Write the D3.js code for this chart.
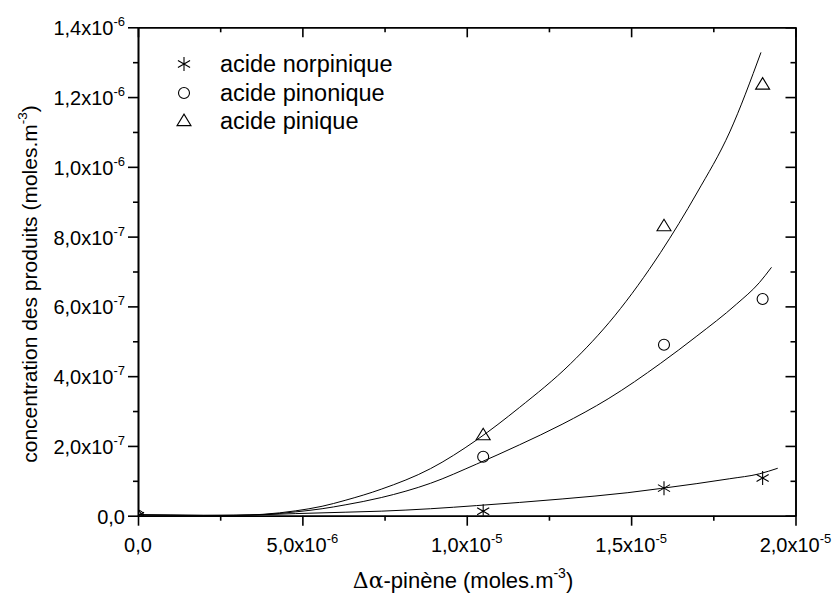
<!DOCTYPE html>
<html>
<head>
<meta charset="utf-8">
<script src="https://cdn.jsdelivr.net/npm/d3@7"></script>
<style>
  html, body { margin: 0; padding: 0; background: #fff; }
  svg { display: block; }
  text { font-family: "Liberation Sans", Arial, sans-serif; fill: #000; }
</style>
</head>
<body>
<svg id="chart" width="833" height="599"></svg>
<script>
// ---------- data ----------
const pointX = [0, 1.05e-5, 1.6e-5, 1.9e-5];
const norpinique = [0, 0.013e-6, 0.079e-6, 0.108e-6];
const pinonique  = [0, 0.169e-6, 0.490e-6, 0.621e-6];
const pinique    = [0, 0.231e-6, 0.830e-6, 1.236e-6];

// fitted curves (x in moles.m-3, y in moles.m-3)
const fitPiniqueX = [0, 1e-6, 2e-6, 3e-6, 3.8e-6, 4.8e-6, 5.6e-6, 6.3e-6, 7.4e-6, 8.9e-6, 10.3e-6, 11.6e-6, 13.15e-6, 14.5e-6, 15.9e-6, 17.0e-6, 18.0e-6, 18.95e-6];
const fitPiniqueY = [0.003e-6, 0.002e-6, 0.001e-6, 0.001e-6, 0.004e-6, 0.014e-6, 0.027e-6, 0.044e-6, 0.076e-6, 0.135e-6, 0.217e-6, 0.310e-6, 0.435e-6, 0.573e-6, 0.755e-6, 0.925e-6, 1.100e-6, 1.328e-6];

const fitPinoniqueX = [0, 1e-6, 2e-6, 3e-6, 3.8e-6, 4.8e-6, 5.6e-6, 6.3e-6, 7.4e-6, 8.9e-6, 10.3e-6, 11.6e-6, 12.9e-6, 14.3e-6, 15.9e-6, 17.0e-6, 18.2e-6, 18.9e-6, 19.27e-6];
const fitPinoniqueY = [0.002e-6, 0.001e-6, 0.000e-6, 0.001e-6, 0.003e-6, 0.011e-6, 0.020e-6, 0.031e-6, 0.052e-6, 0.093e-6, 0.148e-6, 0.203e-6, 0.262e-6, 0.335e-6, 0.437e-6, 0.515e-6, 0.606e-6, 0.668e-6, 0.712e-6];

const fitNorpiniqueX = [0, 2e-6, 3.8e-6, 4.8e-6, 6.3e-6, 7.4e-6, 8.9e-6, 10.3e-6, 11.6e-6, 12.9e-6, 14.9e-6, 15.9e-6, 17.0e-6, 18.0e-6, 18.9e-6, 19.46e-6];
const fitNorpiniqueY = [0.002e-6, 0.001e-6, 0.003e-6, 0.006e-6, 0.010e-6, 0.013e-6, 0.020e-6, 0.029e-6, 0.038e-6, 0.048e-6, 0.066e-6, 0.078e-6, 0.092e-6, 0.106e-6, 0.120e-6, 0.136e-6];

const xTicks = [0, 5e-6, 1e-5, 1.5e-5, 2e-5];
const xTickMant = ["0,0", "5,0x10", "1,0x10", "1,5x10", "2,0x10"];
const xTickExp  = ["", "-6", "-5", "-5", "-5"];
const xMinor = [2.5e-6, 7.5e-6, 1.25e-5, 1.75e-5];

const yTicks = [0, 2e-7, 4e-7, 6e-7, 8e-7, 1e-6, 1.2e-6, 1.4e-6];
const yTickMant = ["0,0", "2,0x10", "4,0x10", "6,0x10", "8,0x10", "1,0x10", "1,2x10", "1,4x10"];
const yTickExp  = ["", "-7", "-7", "-7", "-7", "-6", "-6", "-6"];
const yMinor = [1e-7, 3e-7, 5e-7, 7e-7, 9e-7, 1.1e-6, 1.3e-6];

const seriesNames = ["acide norpinique", "acide pinonique", "acide pinique"];

// ---------- layout ----------
const svg = d3.select("#chart");
const L = 138, R = 795.5, T = 27.3, B = 515.7;
const x = d3.scaleLinear().domain([0, 2e-5]).range([L, R]);
const y = d3.scaleLinear().domain([0, 1.4e-6]).range([B, T]);

svg.append("defs").append("clipPath").attr("id", "plotclip")
  .append("rect").attr("x", L).attr("y", T).attr("width", R - L).attr("height", B - T);

const axisStroke = 1.6;
function styleAxis(g) {
  g.selectAll("path.domain").attr("stroke", "#000").attr("stroke-width", axisStroke);
  g.selectAll(".tick line").attr("stroke", "#000").attr("stroke-width", axisStroke);
  g.selectAll(".tick text").remove();
}

// major & minor ticks
svg.append("g").attr("transform", `translate(0,${B})`)
  .call(d3.axisBottom(x).tickValues(xTicks).tickSize(10).tickSizeOuter(0)).call(styleAxis);
svg.append("g").attr("transform", `translate(0,${B})`)
  .call(d3.axisBottom(x).tickValues(xMinor).tickSize(5).tickSizeOuter(0)).call(styleAxis);
svg.append("g").attr("transform", `translate(0,${T})`)
  .call(d3.axisTop(x).tickValues(xTicks).tickSize(-10).tickSizeOuter(0)).call(styleAxis);
svg.append("g").attr("transform", `translate(0,${T})`)
  .call(d3.axisTop(x).tickValues(xMinor).tickSize(-5).tickSizeOuter(0)).call(styleAxis);

svg.append("g").attr("transform", `translate(${L},0)`)
  .call(d3.axisLeft(y).tickValues(yTicks).tickSize(10).tickSizeOuter(0)).call(styleAxis);
svg.append("g").attr("transform", `translate(${L},0)`)
  .call(d3.axisLeft(y).tickValues(yMinor).tickSize(5).tickSizeOuter(0)).call(styleAxis);
svg.append("g").attr("transform", `translate(${R},0)`)
  .call(d3.axisRight(y).tickValues(yTicks).tickSize(-10).tickSizeOuter(0)).call(styleAxis);
svg.append("g").attr("transform", `translate(${R},0)`)
  .call(d3.axisRight(y).tickValues(yMinor).tickSize(-5).tickSizeOuter(0)).call(styleAxis);

// tick labels with superscripts
const tickFont = 20, supFont = 13;
function labelText(sel, mant, exp) {
  sel.append("tspan").text(mant);
  if (exp) sel.append("tspan").attr("dy", -9).attr("font-size", supFont).text(exp);
}
xTicks.forEach((v, i) => {
  const t = svg.append("text").attr("x", x(v)).attr("y", 552)
    .attr("text-anchor", "middle").attr("font-size", tickFont);
  labelText(t, xTickMant[i], xTickExp[i]);
});
yTicks.forEach((v, i) => {
  const t = svg.append("text").attr("x", 125).attr("y", y(v) + 8)
    .attr("text-anchor", "end").attr("font-size", tickFont);
  labelText(t, yTickMant[i], yTickExp[i]);
});

// axis titles
const xt = svg.append("text").attr("x", 463).attr("y", 588)
  .attr("text-anchor", "middle").attr("font-size", 22);
xt.append("tspan").attr("font-family", "DejaVu Serif, serif").text("Δα");
xt.append("tspan").text("-pinène (moles.m");
xt.append("tspan").attr("dy", -10).attr("font-size", 14).text("-3");
xt.append("tspan").attr("dy", 10).text(")");

const yt = svg.append("text").attr("transform", `translate(37,284) rotate(-90)`)
  .attr("text-anchor", "middle").attr("font-size", 21);
yt.append("tspan").text("concentration des produits (moles.m");
yt.append("tspan").attr("dy", -10).attr("font-size", 13.5).text("-3");
yt.append("tspan").attr("dy", 10).text(")");

// fitted curves
const line = d3.line().x(d => x(d[0])).y(d => y(d[1])).curve(d3.curveMonotoneX);
const curves = [
  d3.zip(fitNorpiniqueX, fitNorpiniqueY),
  d3.zip(fitPinoniqueX, fitPinoniqueY),
  d3.zip(fitPiniqueX, fitPiniqueY)
];
const plot = svg.append("g").attr("clip-path", "url(#plotclip)");
curves.forEach(c => {
  plot.append("path").attr("d", line(c)).attr("fill", "none")
    .attr("stroke", "#000").attr("stroke-width", 1);
});

// markers
function drawStar(g, cx, cy, r) {
  const p = d3.path();
  p.moveTo(cx, cy - r); p.lineTo(cx, cy + r);
  const dx = r * Math.cos(Math.PI / 6) , dy = r * Math.sin(Math.PI / 6);
  p.moveTo(cx - dx, cy - dy); p.lineTo(cx + dx, cy + dy);
  p.moveTo(cx - dx, cy + dy); p.lineTo(cx + dx, cy - dy);
  g.append("path").attr("d", p.toString()).attr("stroke", "#000").attr("stroke-width", 1.1).attr("fill", "none");
}
function drawCircle(g, cx, cy, r) {
  g.append("circle").attr("cx", cx).attr("cy", cy).attr("r", r)
    .attr("fill", "none").attr("stroke", "#000").attr("stroke-width", 1.1);
}
function drawTri(g, cx, cy, w, h) {
  const p = d3.path();
  p.moveTo(cx, cy - h * 0.6); p.lineTo(cx + w / 2, cy + h * 0.4); p.lineTo(cx - w / 2, cy + h * 0.4); p.closePath();
  g.append("path").attr("d", p.toString()).attr("fill", "none").attr("stroke", "#000").attr("stroke-width", 1.1);
}
const markers = [
  (g, cx, cy) => drawStar(g, cx, cy, 7),
  (g, cx, cy) => drawCircle(g, cx, cy, 5.5),
  (g, cx, cy) => drawTri(g, cx, cy, 14, 11.5)
];
[norpinique, pinonique, pinique].forEach((vals, si) => {
  vals.forEach((v, i) => markers[si](plot, x(pointX[i]), y(v)));
});

// legend
const legRows = [64, 93, 121];
seriesNames.forEach((name, i) => {
  markers[i](svg, 184, legRows[i]);
  svg.append("text").attr("x", 220).attr("y", legRows[i] + 8)
    .attr("font-size", 23.5).text(name);
});
</script>
</body>
</html>
